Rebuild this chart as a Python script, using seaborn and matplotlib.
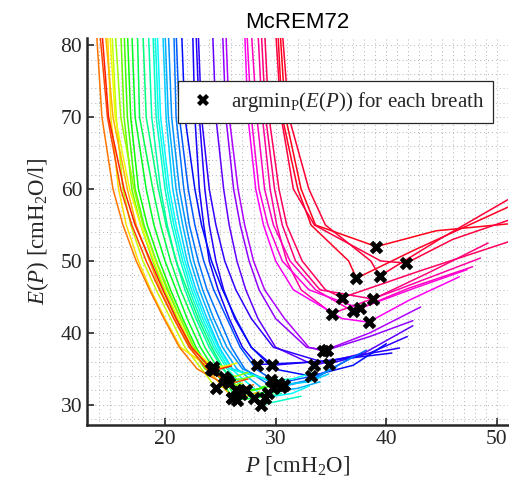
import numpy as np
import pandas as pd
import matplotlib
matplotlib.use("Agg")
import matplotlib.pyplot as plt
from matplotlib.ticker import MultipleLocator
from matplotlib.lines import Line2D
import seaborn as sns

# ---- data ----
breath = [0, 1, 2, 3, 5, 7, 9, 11, 13, 15, 21, 23, 26, 29, 30, 31, 33, 38, 40, 42,
          44, 46, 49, 51, 53, 55, 58, 61, 64, 67, 70, 73, 76, 79, 82, 85, 88, 92, 95, 98]
n_breaths = 100

# left-branch pressure of each breath where E(P) crosses these levels
E_levels = [82, 70, 60, 55, 50, 46, 42, 38, 35]
nan = np.nan
P_at_82 = [30.4, 30.2, 30.6, 30.0, 29.0, 28.7, 28.4, 27.8, 27.4, 27.2, 25.5, 25.2, 24.3, 23.0, 22.8, 22.5, 21.5, 21.0, 20.8, 20.3,
           20.0, 19.8, 19.3, 19.1, 18.9, 18.5, 18.0, 17.5, 17.0, 16.6, 16.3, 16.0, 15.5, 15.2, 15.0, 14.8, 14.6, 13.8, 14.1, 14.3]
P_at_70 = [30.9, 30.6, 31.2, 30.5, 29.4, 29.1, 28.8, 28.3, 27.8, 27.5, 25.8, 25.5, 24.6, 23.3, 23.1, 22.7, 21.8, 21.3, 21.0, 20.6,
           20.3, 20.1, 19.6, 19.4, 19.2, 18.8, 18.3, 17.7, 17.3, 16.9, 16.6, 16.3, 16.0, 15.6, 15.5, 15.1, 15.3, 14.3, 14.8, 14.9]
P_at_60 = [32.3, 32.0, 33.0, 31.6, 30.3, 29.9, 29.5, 29.0, 28.5, 28.2, 26.6, 26.2, 25.3, 24.0, 23.6, 23.1, 22.7, 22.1, 21.7, 21.3,
           21.0, 20.7, 20.4, 20.2, 20.0, 19.6, 19.4, 18.9, 18.3, 17.6, 17.3, 17.0, 17.2, 16.2, 16.8, 15.8, 16.6, 15.3, 16.0, 16.3]
P_at_55 = [33.6, 33.2, 34.5, 33.5, 31.0, 30.6, 30.1, 29.8, 29.3, 28.9, 27.2, 26.8, 25.8, 24.6, 24.0, 23.5, 23.3, 22.7, 22.2, 21.9,
           21.6, 21.3, 21.0, 20.8, 20.6, 20.2, 20.1, 19.6, 19.0, 18.4, 18.1, 17.8, 18.0, 16.9, 17.8, 16.5, 17.4, 16.2, 17.0, 17.3]
P_at_50 = [nan, 36.6, 38.6, 39.5, 32.4, 31.8, 31.0, 31.3, 30.6, 30.0, 28.0, 27.6, 26.5, 25.4, 24.6, 24.0, 24.2, 23.5, 23.0, 22.6,
           22.3, 22.0, 21.8, 21.6, 21.4, 21.0, 21.0, 20.5, 20.0, 19.5, 19.2, 18.9, 19.2, 18.0, 19.0, 17.6, 18.6, 17.4, 18.3, 18.7]
P_at_46 = [nan, nan, nan, nan, 34.5, 34.0, 32.3, 33.6, 33.0, 31.6, 29.0, 28.5, 27.3, 26.4, 25.3, 24.8, 25.2, 24.4, 23.8, 23.4,
           23.1, 22.8, 22.6, 22.4, 22.2, 21.8, 22.0, 21.4, 21.0, 20.5, 20.2, 19.9, 20.3, 19.2, 20.0, 18.7, 19.6, 18.6, 19.5, 19.8]
P_at_42 = [nan, nan, nan, nan, nan, nan, nan, nan, nan, 36.0, 30.8, 30.0, 28.4, 27.8, 26.3, 25.8, 26.4, 25.6, 24.9, 24.4,
           24.1, 23.8, 23.6, 23.4, 23.2, 22.8, 23.0, 22.5, 22.0, 21.6, 21.4, 21.1, 21.4, 20.5, 21.2, 20.0, 20.8, 19.9, 20.8, 21.0]
P_at_38 = [nan, nan, nan, nan, nan, nan, nan, nan, nan, nan, 33.0, 32.8, 30.0, 29.8, 27.8, 27.0, 27.8, 26.8, 26.0, 25.6,
           25.2, 24.9, 24.8, 24.6, 24.4, 24.0, 24.2, 23.6, 23.2, 22.8, 22.6, 22.3, 22.6, 21.8, 22.4, 21.4, 22.2, 21.3, 22.2, 22.4]
P_at_35 = [nan, nan, nan, nan, nan, nan, nan, nan, nan, nan, nan, nan, nan, nan, nan, nan, 29.8, 28.2, 27.2, 27.0,
           26.5, 26.1, 26.0, 25.8, 25.6, 25.2, 25.3, 24.8, 24.4, 24.0, 23.9, 23.6, 24.0, 23.3, nan, nan, 23.8, 22.9, 23.8, nan]

# argmin of E(P) for each breath
min_P = [39.1, 37.3, 39.4, 41.8, 36.0, 38.8, 35.1, 37.0, 37.6, 38.4, 34.3, 34.6, 33.5, 34.8, 29.7, 28.3, 33.2, 30.2, 29.8, 30.5,
         29.3, 30.8, 29.0, 29.6, 28.7, 28.0, 26.9, 26.5, 26.1, 27.3, 26.7, 25.6, 25.3, 24.6, 24.3, 24.2, 26.1, 26.4, 25.8, 24.3]
min_E = [52.0, 47.6, 47.9, 49.7, 44.9, 44.7, 42.7, 43.0, 43.4, 41.5, 37.5, 37.6, 35.5, 35.7, 35.5, 35.6, 34.0, 33.0, 32.4, 32.5,
         31.7, 32.8, 31.0, 33.4, 30.0, 31.0, 31.5, 30.7, 31.0, 32.0, 31.8, 33.5, 33.9, 32.4, 35.3, 35.0, 31.0, 32.0, 33.0, 34.8]

# right branch: one intermediate point and the last point of each breath
mid_P = [44.5, 42.5, 45.0, 46.0, 43.0, 44.0, 41.0, 42.0, 42.5, 42.0, 38.5, 38.5, 38.0, 38.5, 35.0, 34.0, 37.0, 34.0, 33.5, 33.0,
         32.0, 33.0, 31.5, 31.5, 30.5, 29.5, 29.5, 28.5, 28.0, 28.5, 28.0, 27.0, 26.5, 26.0, 25.5, 25.2, 27.5, 27.0, 26.5, 25.0]
mid_E = [54.2, 51.5, 53.2, 53.0, 48.6, 48.5, 46.0, 46.2, 46.2, 44.5, 40.0, 39.5, 37.2, 37.2, 36.2, 36.0, 35.5, 34.2, 33.6, 33.4,
         32.3, 33.2, 31.6, 33.6, 30.6, 31.2, 31.7, 31.0, 31.3, 32.2, 32.0, 33.6, 34.0, 32.6, 35.4, 35.2, 31.3, 32.3, 33.2, 35.0]
end_P = [51.3, 51.3, 51.3, 51.3, 51.3, 49.2, 48.5, 47.8, 47.3, 46.6, 43.1, 42.4, 42.4, 41.9, 41.2, 40.5, 40.0, 38.2, 37.0, 35.5,
         34.0, 34.8, 33.0, 33.5, 32.3, 30.5, 30.5, 30.0, 29.5, 30.0, 29.0, 28.0, 27.5, 27.0, 26.5, 26.0, 28.5, 28.0, 27.5, 26.0]
end_E = [55.2, 57.7, 58.8, 55.8, 52.8, 52.5, 50.4, 49.2, 48.8, 47.8, 43.6, 41.7, 41.0, 39.5, 37.9, 37.2, 38.5, 37.6, 36.7, 35.3,
         33.2, 34.3, 32.6, 34.5, 31.2, 31.6, 32.2, 31.8, 32.0, 32.8, 32.6, 34.0, 34.5, 33.0, 35.8, 35.6, 31.8, 32.8, 33.6, 35.4]

x_ticks = [20, 30, 40, 50]
y_ticks = [30, 40, 50, 60, 70, 80]

# ---- build long table ----
left_levels = [P_at_82, P_at_70, P_at_60, P_at_55, P_at_50, P_at_46, P_at_42, P_at_38, P_at_35]
rows = []
for i, b in enumerate(breath):
    pts = []
    for L, arr in zip(E_levels, left_levels):
        v = arr[i]
        if not np.isnan(v) and L > min_E[i] + 0.2:
            pts.append((v, L))
    pts += [(min_P[i], min_E[i]), (mid_P[i], mid_E[i]), (end_P[i], end_E[i])]
    for k, (p, e) in enumerate(pts):
        rows.append({"breath": b, "k": k, "P": p, "E": e})
df = pd.DataFrame(rows)

# ---- style ----
sns.set_theme(style="white")
plt.rcParams.update({
    "font.family": ["Liberation Serif", "DejaVu Serif"],
    "mathtext.fontset": "custom",
    "mathtext.rm": "Liberation Serif",
    "mathtext.it": "Liberation Serif:italic",
    "mathtext.bf": "Liberation Serif:bold",
})

fig = plt.figure(figsize=(5.1, 4.9), dpi=100)
ax = fig.add_axes([87 / 510, 1 - 425 / 490, 421 / 510, 387 / 490])

sns.lineplot(data=df, x="P", y="E", hue="breath", units="breath", estimator=None,
             sort=False, palette="hsv_r", hue_norm=(0, n_breaths), linewidth=1.1,
             legend=False, ax=ax)
sns.scatterplot(x=min_P, y=min_E, marker="X", color="black", s=95, linewidth=0,
                ax=ax, zorder=5)

ax.set_xlim(12.95, 51.0)
ax.set_ylim(27.2, 81.0)
ax.set_xticks(x_ticks)
ax.set_yticks(y_ticks)
ax.xaxis.set_minor_locator(MultipleLocator(1))
ax.yaxis.set_minor_locator(MultipleLocator(2))
ax.grid(True, which="both", linestyle=(0, (1, 3)), linewidth=0.7, color="#b0b0b0")
ax.set_axisbelow(True)
ax.tick_params(which="major", direction="in", length=5, width=1.2, colors="#262626",
               labelsize=15.5, labelcolor="#262626", left=True, bottom=True)
ax.tick_params(which="minor", length=0)
for s in ["top", "right"]:
    ax.spines[s].set_visible(False)
for s in ["left", "bottom"]:
    ax.spines[s].set_color("#262626")
    ax.spines[s].set_linewidth(1.8)

ax.set_xlabel(r"$\mathit{P}$ [cmH$_2$O]", fontsize=16.5, color="#262626", labelpad=4)
ax.set_ylabel(r"$\mathit{E(P)}$ [cmH$_2$O/l]", fontsize=16.5, color="#262626", labelpad=7)
ax.set_title("McREM72", fontsize=16, family="Liberation Sans", color="black", pad=7)

handle = Line2D([], [], marker="X", color="black", linestyle="none", markersize=9,
                markeredgewidth=0)
leg = ax.legend([handle], [r"argmin$_\mathrm{P}$($\mathit{E(P)}$) for each breath"],
                loc="upper right", bbox_to_anchor=(0.99, 0.917), fontsize=15,
                frameon=True, fancybox=False, framealpha=1, edgecolor="#262626",
                handletextpad=0.6, borderpad=0.45, handlelength=1.5)
leg.get_frame().set_linewidth(0.9)

fig.savefig("out.png", dpi=100)
